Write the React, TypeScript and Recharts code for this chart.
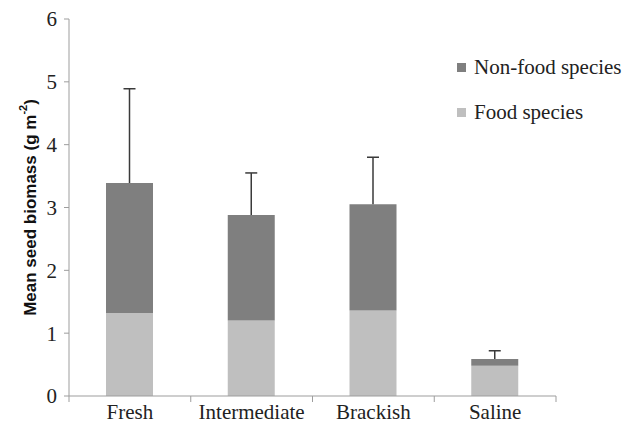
import { BarChart, Bar, XAxis, YAxis } from "recharts";

const sites = ["Fresh", "Intermediate", "Brackish", "Saline"];
const foodSpecies = [1.32, 1.2, 1.36, 0.48];
const nonFoodSpecies = [2.07, 1.68, 1.69, 0.11];
const upperError = [1.5, 0.67, 0.75, 0.13];
const yTicks = [0, 1, 2, 3, 4, 5, 6];

const data = sites.map((site, i) => ({
  site,
  food: foodSpecies[i],
  nonfood: nonFoodSpecies[i],
  err: upperError[i],
}));

const AXIS = "#9d9d9d";
const SERIF = "'Liberation Serif', 'Times New Roman', serif";

// whisker drawn from the top of the stack upward, cap only at the top
const Whisker = (props: any) => {
  const { x, y, width, height } = props;
  const cx = x + width / 2;
  return (
    <g stroke="#3a3a3a" strokeWidth={1.5}>
      <line x1={cx} y1={y + height} x2={cx} y2={y} />
      <line x1={cx - 6} y1={y} x2={cx + 6} y2={y} />
    </g>
  );
};

const SiteTick = (props: any) => {
  const { x, y, payload, index } = props;
  const off = payload.offset ?? 60.9;
  const axisY = y - 8;
  return (
    <g>
      <line x1={x + off} y1={axisY} x2={x + off} y2={axisY + 6} stroke={AXIS} />
      {index === 0 && <line x1={x - off} y1={axisY} x2={x - off} y2={axisY + 6} stroke={AXIS} />}
      <text x={x} y={y} dy="0.71em" textAnchor="middle" fill="#222" fontSize={21} fontFamily={SERIF}>
        {payload.value}
      </text>
    </g>
  );
};

const YTitle = (props: any) => {
  const vb = props.viewBox || {};
  const cy = vb.y + vb.height / 2;
  const cx = 30;
  return (
    <text
      x={cx}
      y={cy}
      transform={`rotate(-90, ${cx}, ${cy})`}
      textAnchor="middle"
      dominantBaseline="central"
      fontFamily="'Liberation Sans', Arial, sans-serif"
      fontWeight="bold"
      fontSize={17}
      fill="#111"
    >
      Mean seed biomass (g m
      <tspan fontSize={11} dy={-7}>-2</tspan>
      <tspan dy={7}>)</tspan>
    </text>
  );
};

const legendItems = [
  { label: "Non-food species", color: "#7f7f7f" },
  { label: "Food species", color: "#bfbfbf" },
];

export default function App() {
  return (
    <div style={{ position: "absolute", left: 0, top: 0, width: 639, height: 431, background: "#fff" }}>
      <BarChart
        width={639}
        height={431}
        data={data}
        margin={{ top: 19, right: 83, left: 0, bottom: 0 }}
        barSize={47}
      >
        <XAxis
          dataKey="site"
          stroke={AXIS}
          tickLine={false}
          tickSize={0}
          tickMargin={8}
          tick={<SiteTick />}
          interval={0}
          height={35}
        />
        <YAxis
          width={69}
          domain={[0, 6]}
          ticks={yTicks}
          stroke={AXIS}
          tickSize={5}
          tickMargin={7}
          tick={{ fill: "#222", fontSize: 21, fontFamily: SERIF }}
          label={<YTitle />}
        />
        <Bar dataKey="food" stackId="s" fill="#bfbfbf" isAnimationActive={false} />
        <Bar dataKey="nonfood" stackId="s" fill="#7f7f7f" isAnimationActive={false} />
        <Bar dataKey="err" stackId="s" legendType="none" shape={<Whisker />} isAnimationActive={false} />
      </BarChart>
      <div style={{ position: "absolute", left: 457, top: 45, fontFamily: SERIF, fontSize: 21, color: "#222" }}>
        {legendItems.map((it) => (
          <div key={it.label} style={{ display: "flex", alignItems: "center", height: 45, whiteSpace: "nowrap" }}>
            <span style={{ width: 9, height: 9, background: it.color, marginRight: 8, display: "inline-block" }} />
            {it.label}
          </div>
        ))}
      </div>
    </div>
  );
}
